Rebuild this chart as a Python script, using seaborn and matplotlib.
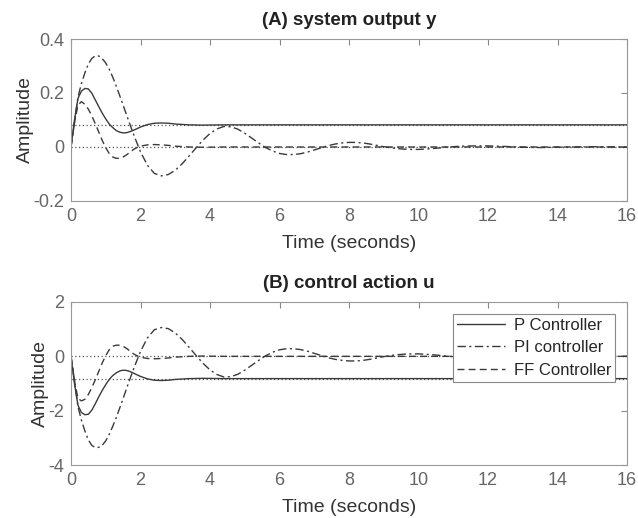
import matplotlib
matplotlib.use("Agg")
import matplotlib.pyplot as plt
import seaborn as sns

# time samples (s) for the P and FF curves
t_short = [0, 0.1, 0.2, 0.3, 0.4, 0.5, 0.6, 0.7, 0.8, 0.9,
           1.0, 1.1, 1.2, 1.3, 1.4, 1.5, 1.6, 1.7, 1.8, 1.9,
           2.0, 2.2, 2.4, 2.6, 2.8, 3.0, 3.4, 3.8, 4.4, 5.0, 16.0]

# time samples for the slower PI curve
t_pi = [0.0, 0.1, 0.2, 0.3, 0.4, 0.5, 0.6, 0.7, 0.8, 0.9,
        1.0, 1.1, 1.2, 1.3, 1.4, 1.5, 1.6, 1.7, 1.8, 1.9,
        2.0, 2.2, 2.4, 2.6, 2.8, 3.0, 3.2, 3.4, 3.6, 3.8,
        4.0, 4.2, 4.4, 4.6, 4.8, 5.0, 5.2, 5.4, 5.6, 5.8,
        6.0, 6.2, 6.4, 6.6, 6.8, 7.0, 7.2, 7.4, 7.6, 7.8,
        8.0, 8.2, 8.4, 8.6, 8.8, 9.0, 9.2, 9.4, 9.6, 9.8,
        10.0, 10.4, 10.8, 11.2, 11.6, 12.0, 12.5, 13.0, 13.5, 14.0,
        14.5, 15.0, 15.5, 16.0]

# (A) system output y
y_p = [0, 0.10, 0.18, 0.207, 0.217, 0.215, 0.199, 0.174, 0.149, 0.125,
       0.104, 0.085, 0.072, 0.061, 0.055, 0.052, 0.053, 0.057, 0.062, 0.068,
       0.074, 0.083, 0.088, 0.089, 0.088, 0.085, 0.082, 0.081, 0.082, 0.082, 0.082]
y_ff = [0, 0.09, 0.155, 0.168, 0.158, 0.14, 0.115, 0.086, 0.055, 0.024,
        -0.003, -0.024, -0.037, -0.042, -0.042, -0.037, -0.029, -0.019, -0.009, -0.002,
        0.003, 0.008, 0.009, 0.008, 0.006, 0.003, 0.0, -0.001, 0.0, 0.0, 0.0]
y_pi = [0, 0.09, 0.185, 0.235, 0.275, 0.308, 0.328, 0.338, 0.337, 0.327,
        0.311, 0.288, 0.259, 0.226, 0.191, 0.155, 0.118, 0.082, 0.047, 0.014,
        -0.018, -0.068, -0.098, -0.107, -0.102, -0.086, -0.062, -0.033, -0.003, 0.026,
        0.050, 0.067, 0.076, 0.075, 0.066, 0.051, 0.033, 0.015, -0.002, -0.015,
        -0.024, -0.028, -0.028, -0.025, -0.019, -0.011, -0.003, 0.005, 0.011, 0.015,
        0.017, 0.017, 0.015, 0.011, 0.006, 0.001, -0.003, -0.006, -0.008, -0.009,
        -0.009, -0.006, -0.001, 0.003, 0.004, 0.004, 0.002, -0.001, -0.002, -0.001,
        0.0, 0.001, 0.0, 0.0]

# (B) control action u
u_p = [0, -1.0, -1.8, -2.07, -2.15, -2.13, -1.98, -1.74, -1.49, -1.25,
       -1.04, -0.85, -0.71, -0.61, -0.54, -0.51, -0.52, -0.56, -0.62, -0.68,
       -0.74, -0.83, -0.88, -0.89, -0.88, -0.85, -0.82, -0.81, -0.82, -0.82, -0.82]
u_ff = [0, -0.9, -1.55, -1.64, -1.58, -1.4, -1.15, -0.86, -0.55, -0.24,
        0.03, 0.24, 0.37, 0.41, 0.41, 0.37, 0.29, 0.19, 0.09, 0.02,
        -0.03, -0.08, -0.09, -0.08, -0.06, -0.03, 0.0, 0.01, 0.0, 0.0, 0.0]
u_pi = [0, -0.9, -1.85, -2.35, -2.75, -3.08, -3.28, -3.36, -3.35, -3.27,
        -3.11, -2.87, -2.58, -2.26, -1.91, -1.55, -1.18, -0.82, -0.47, -0.14,
        0.18, 0.68, 0.98, 1.06, 1.02, 0.86, 0.62, 0.33, 0.03, -0.26,
        -0.50, -0.67, -0.76, -0.75, -0.66, -0.51, -0.33, -0.15, 0.02, 0.15,
        0.24, 0.28, 0.28, 0.25, 0.19, 0.11, 0.03, -0.05, -0.11, -0.15,
        -0.17, -0.17, -0.15, -0.11, -0.06, -0.01, 0.03, 0.06, 0.08, 0.09,
        0.09, 0.06, 0.01, -0.03, -0.04, -0.04, -0.02, 0.01, 0.02, 0.01,
        0.0, -0.01, 0.0, 0.0]

# steady-state reference lines (dotted)
y_final = [0.082, 0.0]
u_final = [-0.82, 0.0]

x_ticks = [0, 2, 4, 6, 8, 10, 12, 14, 16]
y_ticks_a = [-0.2, 0, 0.2, 0.4]
y_labels_a = ["-0.2", "0", "0.2", "0.4"]
y_ticks_b = [-4, -2, 0, 2]
y_labels_b = ["-4", "-2", "0", "2"]

series_names = ["P Controller", "PI controller", "FF Controller"]

sns.set_style("white")
plt.rcParams["font.family"] = ["Liberation Sans", "DejaVu Sans"]

line_col = "#3a3a3a"
styles = ["-", (0, (6, 2.5, 1.5, 2.5)), (0, (5, 3))]

fig = plt.figure(figsize=(6.38, 5.18), dpi=100)
ax1 = fig.add_axes([0.1113, 0.612, 0.8715, 0.3127])
ax2 = fig.add_axes([0.1113, 0.1023, 0.8715, 0.3147])

panels = [
    (ax1, [(t_short, y_p), (t_pi, y_pi), (t_short, y_ff)], y_final,
     y_ticks_a, y_labels_a, (-0.2, 0.4), "(A) system output y"),
    (ax2, [(t_short, u_p), (t_pi, u_pi), (t_short, u_ff)], u_final,
     y_ticks_b, y_labels_b, (-4, 2), "(B) control action u"),
]

for ax, curves, finals, yt, yl, ylim, title in panels:
    for v in finals:
        ax.axhline(v, color="#555555", lw=0.9, ls=(0, (1, 2)), zorder=1)
    for (tt, vals), ls, name in zip(curves, styles, series_names):
        sns.lineplot(x=tt, y=vals, ax=ax, color=line_col, lw=1.0,
                     linestyle=ls, label=name, sort=False, zorder=2)
    ax.set_xlim(0, 16)
    ax.set_ylim(*ylim)
    ax.set_xticks(x_ticks)
    ax.set_xticklabels([str(x) for x in x_ticks])
    ax.set_yticks(yt)
    ax.set_yticklabels(yl)
    ax.tick_params(direction="in", top=True, right=True, length=4, width=0.8,
                   color="#888888", labelcolor="#666666", labelsize=13, pad=5)
    for sp in ax.spines.values():
        sp.set_color("#999999")
        sp.set_linewidth(0.8)
    ax.set_xlabel("Time (seconds)", fontsize=14, color="#333333", labelpad=7)
    ax.set_ylabel("Amplitude", fontsize=14, color="#333333", labelpad=-0.5)
    ax.set_title(title, fontsize=13.5, fontweight="bold", color="#222222", pad=10)

ax1.get_legend().remove()
leg = ax2.legend(loc="upper right", fontsize=12, handlelength=2.9,
                 frameon=True, fancybox=False, framealpha=1,
                 edgecolor="#888888", borderaxespad=0.7, borderpad=0.25,
                 labelspacing=0.45, handletextpad=0.5)
leg.get_frame().set_linewidth(0.8)

fig.savefig("out.png", dpi=100)
